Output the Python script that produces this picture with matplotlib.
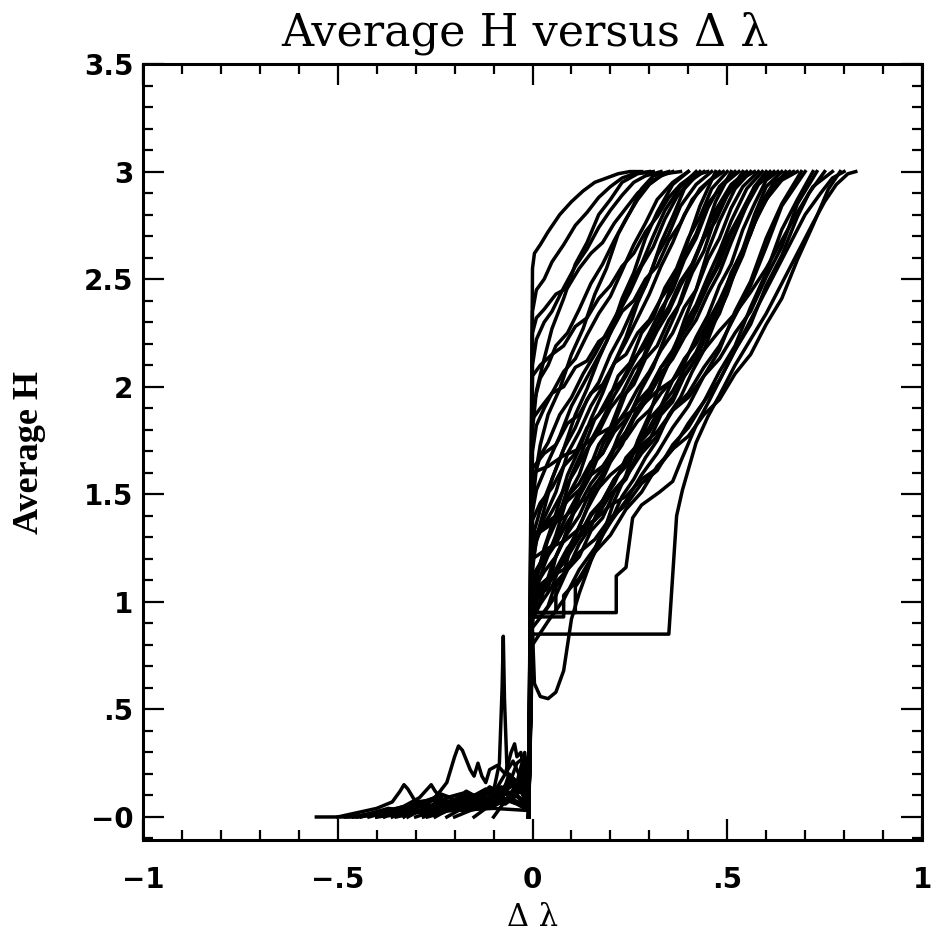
import numpy as np
import matplotlib.pyplot as plt
from matplotlib.ticker import MultipleLocator, FixedLocator, FixedFormatter

# left (negative delta lambda) pieces of the curves, hand read
neg_x = [
    [-0.555, -0.45, -0.40, -0.30, -0.20, -0.10, -0.01],
    [-0.50, -0.45, -0.40, -0.36, -0.34, -0.33, -0.32, -0.30, -0.25, -0.20, -0.15, -0.10, -0.05, -0.01],
    [-0.45, -0.40, -0.35, -0.30, -0.25, -0.22, -0.20, -0.19, -0.18, -0.16, -0.15, -0.14, -0.13, -0.12, -0.11, -0.09, -0.07, -0.05, -0.03, -0.01],
    [-0.40, -0.35, -0.30, -0.25, -0.20, -0.15, -0.10, -0.085, -0.078, -0.075, -0.072, -0.065, -0.05, -0.03, -0.01],
    [-0.42, -0.38, -0.33, -0.29, -0.27, -0.26, -0.25, -0.22, -0.18, -0.14, -0.10, -0.06, -0.03, -0.01],
    [-0.30, -0.25, -0.20, -0.15, -0.12, -0.09, -0.07, -0.055, -0.046, -0.04, -0.03, -0.02, -0.01],
    [-0.38, -0.34, -0.30, -0.26, -0.22, -0.18, -0.14, -0.10, -0.06, -0.03, -0.01],
    [-0.35, -0.30, -0.25, -0.20, -0.16, -0.12, -0.08, -0.05, -0.02, -0.01],
    [-0.48, -0.42, -0.36, -0.30, -0.24, -0.18, -0.12, -0.06, -0.01],
    [-0.25, -0.21, -0.17, -0.13, -0.09, -0.06, -0.04, -0.02, -0.01],
    [-0.32, -0.28, -0.24, -0.20, -0.16, -0.12, -0.08, -0.04, -0.01],
    [-0.20, -0.16, -0.12, -0.08, -0.05, -0.03, -0.01],
    [-0.44, -0.40, -0.36, -0.32, -0.28, -0.24, -0.20, -0.16, -0.12, -0.08, -0.04, -0.01],
    [-0.36, -0.32, -0.29, -0.26, -0.23, -0.20, -0.17, -0.14, -0.11, -0.08, -0.05, -0.02, -0.01],
    [-0.28, -0.24, -0.20, -0.17, -0.14, -0.11, -0.08, -0.06, -0.04, -0.02, -0.01],
    [-0.40, -0.35, -0.30, -0.26, -0.22, -0.18, -0.14, -0.10, -0.07, -0.04, -0.01],
    [-0.22, -0.19, -0.16, -0.13, -0.10, -0.08, -0.06, -0.04, -0.02, -0.01],
    [-0.15, -0.12, -0.09, -0.07, -0.05, -0.03, -0.01],
    [-0.46, -0.41, -0.37, -0.33, -0.29, -0.25, -0.21, -0.17, -0.13, -0.09, -0.05, -0.01],
    [-0.33, -0.30, -0.27, -0.24, -0.21, -0.18, -0.15, -0.12, -0.09, -0.06, -0.03, -0.01],
    [-0.10, -0.08, -0.06, -0.04, -0.03, -0.02, -0.01],
    [-0.27, -0.23, -0.19, -0.15, -0.11, -0.07, -0.04, -0.01],
]
neg_y = [
    [0, 0, 0.01, 0.02, 0.03, 0.04, 0.03],
    [0, 0.02, 0.04, 0.07, 0.12, 0.15, 0.13, 0.07, 0.08, 0.06, 0.09, 0.07, 0.08, 0.05],
    [0, 0.02, 0.04, 0.06, 0.09, 0.16, 0.28, 0.33, 0.31, 0.22, 0.19, 0.25, 0.19, 0.16, 0.22, 0.24, 0.20, 0.26, 0.18, 0.10],
    [0, 0.03, 0.05, 0.08, 0.07, 0.10, 0.12, 0.25, 0.60, 0.84, 0.55, 0.20, 0.15, 0.12, 0.08],
    [0, 0.02, 0.05, 0.09, 0.13, 0.15, 0.12, 0.06, 0.08, 0.06, 0.10, 0.08, 0.12, 0.06],
    [0, 0.03, 0.05, 0.09, 0.12, 0.14, 0.20, 0.30, 0.34, 0.28, 0.30, 0.20, 0.10],
    [0, 0.03, 0.06, 0.04, 0.09, 0.11, 0.07, 0.13, 0.10, 0.18, 0.08],
    [0, 0.02, 0.05, 0.07, 0.05, 0.10, 0.14, 0.09, 0.22, 0.10],
    [0, 0.01, 0.03, 0.05, 0.04, 0.07, 0.06, 0.09, 0.04],
    [0, 0.04, 0.06, 0.09, 0.08, 0.15, 0.25, 0.28, 0.15],
    [0, 0.04, 0.02, 0.07, 0.09, 0.06, 0.11, 0.16, 0.08],
    [0, 0.03, 0.05, 0.08, 0.18, 0.12, 0.05],
    [0, 0.02, 0.01, 0.04, 0.06, 0.05, 0.08, 0.10, 0.08, 0.12, 0.10, 0.06],
    [0, 0.03, 0.07, 0.05, 0.10, 0.08, 0.12, 0.09, 0.14, 0.11, 0.18, 0.13, 0.07],
    [0, 0.02, 0.06, 0.04, 0.08, 0.12, 0.09, 0.20, 0.16, 0.30, 0.12],
    [0, 0.01, 0.03, 0.02, 0.05, 0.03, 0.06, 0.05, 0.08, 0.06, 0.03],
    [0, 0.03, 0.07, 0.05, 0.11, 0.09, 0.16, 0.12, 0.24, 0.10],
    [0, 0.04, 0.06, 0.12, 0.10, 0.20, 0.08],
    [0, 0.02, 0.04, 0.03, 0.06, 0.09, 0.07, 0.11, 0.09, 0.13, 0.11, 0.05],
    [0, 0.04, 0.06, 0.11, 0.09, 0.06, 0.10, 0.13, 0.10, 0.17, 0.14, 0.06],
    [0, 0.05, 0.10, 0.14, 0.22, 0.18, 0.10],
    [0, 0.02, 0.05, 0.04, 0.07, 0.06, 0.10, 0.04],
]

# right (positive delta lambda) pieces, starting at the jump at zero
pos_x = [
    [0, .005, .02, .04, .07, .10, .13, .16, .19, .22, .25, .28],
    [0, .01, .03, .05, .08, .11, .14, .17, .20, .23, .26, .30],
    [0, .01, .03, .05, .08, .11, .14, .17, .20, .23, .26, .29, .33],
    [0, .02, .04, .06, .09, .12, .15, .18, .21, .24, .27, .30, .33, .36],
    [0, .01, .03, .06, .09, .12, .15, .18, .21, .24, .27, .30, .34, .38],
    [0, .01, .03, .05, .08, .11, .14, .17, .20, .23, .26, .29, .32, .36, .40],
    [0, .02, .04, .07, .10, .13, .16, .19, .22, .25, .28, .31, .34, .38, .42],
    [0, .01, .04, .07, .10, .13, .16, .19, .22, .25, .28, .31, .34, .37, .40, .44],
    [0, .02, .05, .08, .11, .14, .17, .20, .23, .26, .29, .32, .35, .38, .41, .45],
    [0, .02, .05, .08, .11, .14, .17, .20, .23, .26, .29, .32, .35, .38, .42, .46],
    [0, .01, .03, .06, .09, .12, .15, .18, .21, .24, .27, .30, .33, .36, .39, .43, .48],
    [0, .02, .05, .08, .11, .14, .17, .20, .23, .26, .29, .32, .35, .38, .41, .45, .49],
    [0, .02, .04, .07, .10, .13, .16, .19, .22, .25, .28, .31, .34, .37, .40, .43, .46, .50],
    [0, .01, .03, .06, .09, .12, .15, .18, .21, .24, .27, .30, .33, .36, .39, .42, .45, .48, .52],
    [0, .03, .06, .09, .12, .15, .18, .21, .24, .27, .30, .33, .36, .39, .42, .45, .49, .53],
    [0, .02, .05, .08, .11, .14, .17, .20, .23, .26, .29, .32, .35, .38, .41, .44, .47, .50, .54],
    [0, .02, .05, .08, .11, .14, .17, .20, .23, .26, .29, .32, .35, .38, .41, .44, .47, .51, .55],
    [0, .005, .02, .04, .06, .08, .09, .10, .12, .15, .18, .21, .24, .27, .30, .33, .36, .39, .42, .45, .48, .52, .56],
    [0, .02, .05, .08, .11, .14, .17, .20, .23, .26, .29, .32, .35, .38, .41, .44, .47, .50, .53, .57],
    [0, .03, .06, .09, .12, .15, .18, .21, .24, .27, .30, .33, .36, .39, .42, .45, .48, .51, .54, .58],
    [0, .03, .06, .09, .12, .15, .18, .21, .24, .27, .30, .33, .36, .39, .42, .45, .48, .51, .54, .57, .60],
    [0, .02, .05, .08, .11, .14, .17, .20, .23, .26, .29, .32, .35, .38, .41, .44, .47, .50, .53, .57, .61],
    [0, .03, .06, .09, .12, .15, .18, .21, .24, .27, .30, .33, .36, .39, .42, .45, .48, .51, .54, .58, .62],
    [0, .06, .06, .09, .12, .15, .18, .21, .24, .27, .30, .33, .36, .39, .42, .45, .48, .51, .54, .57, .60, .63],
    [0, .03, .06, .09, .12, .15, .18, .21, .24, .27, .30, .33, .36, .39, .42, .45, .48, .51, .54, .57, .60, .64],
    [0, .03, .06, .09, .12, .15, .18, .21, .24, .27, .30, .33, .36, .39, .42, .45, .48, .51, .54, .57, .61, .65],
    [0, .11, .11, .14, .17, .20, .23, .26, .29, .32, .35, .38, .41, .44, .47, .50, .53, .56, .59, .62, .66],
    [0, .03, .06, .09, .12, .15, .18, .21, .24, .27, .30, .33, .36, .39, .42, .45, .48, .51, .54, .57, .60, .64, .68],
    [0, .04, .08, .12, .16, .20, .24, .28, .32, .36, .40, .44, .48, .52, .56, .60, .64, .69],
    [0, .04, .08, .12, .16, .20, .24, .28, .32, .36, .40, .44, .48, .52, .56, .60, .64, .70],
    [0, .08, .08, .12, .16, .20, .24, .28, .32, .36, .40, .44, .48, .52, .56, .60, .64, .68, .72],
    [0, .04, .08, .12, .16, .20, .24, .28, .32, .36, .40, .44, .48, .52, .56, .60, .64, .68, .73],
    [0, .04, .08, .12, .16, .20, .24, .28, .32, .36, .40, .44, .48, .52, .56, .60, .64, .68, .71, .75],
    [0, .04, .08, .12, .16, .20, .24, .28, .32, .36, .40, .44, .48, .52, .56, .60, .64, .68, .72, .77],
    [0, .215, .215, .24, .257, .28, .326, .36, .38, .42, .455, .50, .54, .58, .62, .66, .70, .74, .77, .80],
    [0, .35, .37, .385, .42, .45, .48, .52, .56, .60, .64, .68, .72, .75, .78, .81, .83],
    [0, .04, .08, .12, .16, .20, .24, .28, .32, .36, .40, .44, .48, .52, .56, .60, .64, .68, .72, .76, .79],
    [0, .01, .03, .05, .08, .11, .14, .17, .20, .23, .27, .31],
    [0, .01, .02, .04, .07, .10, .13, .16, .19, .22, .25, .28, .31, .35],
    [0, .01, .03, .05, .08, .11, .14, .17, .20, .23, .26, .29, .32, .36, .40],
    [0, .01, .03, .06, .09, .12, .15, .18, .21, .24, .27, .30, .33, .36, .39, .43],
    [0, .02, .04, .06, .09, .12, .15, .18, .21, .24, .27, .30, .33, .36, .39, .43, .47],
    [0, .02, .04, .06, .08, .10, .13, .16, .19, .22, .25, .28, .31, .34, .37, .40, .43, .47, .51],
    [0, .03, .06, .09, .12, .15, .18, .21, .24, .27, .30, .33, .36, .39, .42, .45, .48, .51, .55, .59],
    [0, .03, .06, .09, .12, .15, .18, .21, .24, .27, .30, .33, .36, .39, .42, .45, .48, .51, .55, .59, .63, .67],
]
pos_y = [
    [2.55, 2.62, 2.66, 2.72, 2.80, 2.86, 2.91, 2.95, 2.97, 2.99, 3.00, 3.00],
    [2.35, 2.45, 2.50, 2.58, 2.66, 2.75, 2.81, 2.88, 2.93, 2.97, 2.99, 3.00],
    [2.10, 2.22, 2.30, 2.35, 2.46, 2.56, 2.64, 2.74, 2.82, 2.89, 2.95, 2.98, 3.00],
    [1.90, 2.04, 2.10, 2.19, 2.25, 2.36, 2.48, 2.57, 2.68, 2.78, 2.87, 2.94, 2.98, 3.00],
    [2.25, 2.32, 2.36, 2.43, 2.46, 2.55, 2.62, 2.67, 2.76, 2.83, 2.90, 2.95, 2.99, 3.00],
    [1.70, 1.82, 1.90, 1.97, 2.07, 2.13, 2.24, 2.34, 2.42, 2.54, 2.66, 2.76, 2.87, 2.95, 3.00],
    [1.55, 1.68, 1.74, 1.87, 1.95, 2.06, 2.15, 2.25, 2.35, 2.47, 2.57, 2.70, 2.82, 2.93, 3.00],
    [1.42, 1.52, 1.65, 1.77, 1.91, 2.01, 2.11, 2.21, 2.34, 2.44, 2.56, 2.65, 2.78, 2.88, 2.95, 3.00],
    [2.05, 2.10, 2.15, 2.19, 2.28, 2.32, 2.41, 2.47, 2.56, 2.62, 2.72, 2.79, 2.88, 2.94, 2.98, 3.00],
    [1.30, 1.43, 1.57, 1.71, 1.81, 1.94, 2.02, 2.15, 2.25, 2.37, 2.47, 2.61, 2.71, 2.84, 2.94, 3.00],
    [1.18, 1.28, 1.39, 1.51, 1.69, 1.79, 1.91, 2.00, 2.11, 2.21, 2.32, 2.43, 2.56, 2.67, 2.80, 2.92, 3.00],
    [1.85, 1.90, 1.97, 2.00, 2.09, 2.12, 2.21, 2.25, 2.35, 2.40, 2.50, 2.56, 2.68, 2.76, 2.87, 2.95, 3.00],
    [1.05, 1.18, 1.29, 1.41, 1.59, 1.71, 1.85, 1.91, 2.05, 2.11, 2.25, 2.32, 2.46, 2.55, 2.69, 2.79, 2.92, 3.00],
    [0.98, 1.06, 1.17, 1.31, 1.49, 1.59, 1.75, 1.85, 1.96, 2.05, 2.15, 2.25, 2.36, 2.45, 2.59, 2.69, 2.83, 2.93, 3.00],
    [1.62, 1.69, 1.73, 1.83, 1.87, 1.97, 2.01, 2.11, 2.15, 2.25, 2.31, 2.41, 2.49, 2.61, 2.71, 2.85, 2.94, 3.00],
    [0.93, 1.00, 1.17, 1.29, 1.45, 1.59, 1.73, 1.81, 1.95, 2.01, 2.13, 2.19, 2.31, 2.39, 2.53, 2.63, 2.79, 2.89, 3.00],
    [1.25, 1.33, 1.42, 1.52, 1.61, 1.71, 1.79, 1.90, 1.97, 2.08, 2.15, 2.26, 2.35, 2.47, 2.57, 2.70, 2.82, 2.94, 3.00],
    [0.86, 0.62, 0.56, 0.55, 0.58, 0.68, 0.80, 0.92, 1.04, 1.19, 1.31, 1.47, 1.59, 1.75, 1.87, 2.03, 2.15, 2.31, 2.45, 2.63, 2.77, 2.92, 3.00],
    [1.38, 1.46, 1.53, 1.63, 1.69, 1.81, 1.87, 1.97, 2.03, 2.13, 2.19, 2.29, 2.37, 2.49, 2.57, 2.69, 2.77, 2.89, 2.96, 3.00],
    [1.12, 1.21, 1.29, 1.41, 1.51, 1.63, 1.69, 1.81, 1.89, 1.99, 2.07, 2.17, 2.25, 2.37, 2.45, 2.59, 2.69, 2.83, 2.93, 3.00],
    [1.10, 1.19, 1.27, 1.37, 1.45, 1.55, 1.62, 1.72, 1.79, 1.89, 1.96, 2.06, 2.13, 2.23, 2.31, 2.43, 2.53, 2.67, 2.80, 2.93, 3.00],
    [0.92, 0.99, 1.07, 1.21, 1.31, 1.43, 1.53, 1.65, 1.73, 1.85, 1.93, 2.03, 2.11, 2.23, 2.31, 2.45, 2.55, 2.69, 2.79, 2.93, 3.00],
    [1.28, 1.35, 1.39, 1.49, 1.55, 1.65, 1.69, 1.79, 1.85, 1.93, 1.99, 2.09, 2.15, 2.27, 2.35, 2.47, 2.57, 2.71, 2.81, 2.94, 3.00],
    [0.95, 0.95, 1.07, 1.15, 1.27, 1.35, 1.47, 1.55, 1.67, 1.73, 1.85, 1.91, 2.03, 2.11, 2.23, 2.33, 2.47, 2.57, 2.73, 2.85, 2.96, 3.00],
    [0.98, 1.06, 1.13, 1.23, 1.30, 1.40, 1.47, 1.57, 1.64, 1.74, 1.81, 1.91, 1.98, 2.08, 2.16, 2.28, 2.38, 2.52, 2.64, 2.80, 2.93, 3.00],
    [1.02, 1.09, 1.15, 1.25, 1.31, 1.41, 1.47, 1.57, 1.63, 1.73, 1.79, 1.89, 1.95, 2.05, 2.13, 2.25, 2.34, 2.49, 2.61, 2.77, 2.90, 3.00],
    [0.95, 0.95, 1.07, 1.15, 1.29, 1.37, 1.49, 1.57, 1.67, 1.75, 1.87, 1.95, 2.07, 2.17, 2.31, 2.43, 2.59, 2.71, 2.86, 2.95, 3.00],
    [1.30, 1.36, 1.40, 1.47, 1.52, 1.59, 1.63, 1.71, 1.76, 1.84, 1.89, 1.97, 2.03, 2.13, 2.20, 2.30, 2.40, 2.52, 2.63, 2.76, 2.87, 2.96, 3.00],
    [0.80, 0.91, 1.01, 1.15, 1.25, 1.37, 1.47, 1.59, 1.69, 1.81, 1.91, 2.05, 2.17, 2.35, 2.49, 2.69, 2.85, 3.00],
    [1.00, 1.10, 1.18, 1.30, 1.38, 1.50, 1.58, 1.69, 1.77, 1.89, 1.97, 2.09, 2.19, 2.33, 2.47, 2.65, 2.84, 3.00],
    [0.93, 0.93, 1.03, 1.11, 1.23, 1.31, 1.43, 1.51, 1.63, 1.71, 1.83, 1.93, 2.07, 2.19, 2.37, 2.53, 2.73, 2.87, 3.00],
    [1.30, 1.35, 1.39, 1.46, 1.51, 1.59, 1.65, 1.73, 1.79, 1.89, 1.95, 2.05, 2.13, 2.25, 2.35, 2.51, 2.65, 2.85, 3.00],
    [1.05, 1.11, 1.15, 1.23, 1.29, 1.39, 1.45, 1.55, 1.61, 1.73, 1.81, 1.93, 2.03, 2.17, 2.29, 2.47, 2.61, 2.79, 2.90, 3.00],
    [1.60, 1.63, 1.68, 1.71, 1.77, 1.81, 1.87, 1.91, 1.98, 2.03, 2.11, 2.17, 2.26, 2.34, 2.44, 2.55, 2.68, 2.81, 2.93, 3.00],
    [0.95, 0.95, 1.12, 1.16, 1.39, 1.45, 1.51, 1.56, 1.65, 1.82, 1.94, 2.10, 2.24, 2.38, 2.52, 2.66, 2.80, 2.90, 2.97, 3.00],
    [0.85, 0.85, 1.40, 1.52, 1.74, 1.86, 1.96, 2.10, 2.22, 2.34, 2.48, 2.62, 2.76, 2.86, 2.94, 2.99, 3.00],
    [1.20, 1.25, 1.28, 1.34, 1.38, 1.45, 1.49, 1.57, 1.62, 1.71, 1.77, 1.87, 1.94, 2.06, 2.15, 2.29, 2.41, 2.59, 2.75, 2.92, 3.00],
    [1.80, 1.98, 2.13, 2.27, 2.41, 2.57, 2.67, 2.80, 2.87, 2.95, 2.99, 3.00],
    [1.45, 1.62, 1.73, 1.87, 1.99, 2.15, 2.27, 2.43, 2.55, 2.71, 2.81, 2.92, 2.98, 3.00],
    [1.15, 1.30, 1.43, 1.57, 1.71, 1.87, 1.99, 2.13, 2.25, 2.41, 2.53, 2.69, 2.81, 2.94, 3.00],
    [1.00, 1.10, 1.25, 1.41, 1.59, 1.71, 1.85, 1.97, 2.11, 2.23, 2.39, 2.51, 2.67, 2.79, 2.92, 3.00],
    [0.95, 1.04, 1.06, 1.21, 1.33, 1.49, 1.59, 1.73, 1.83, 1.97, 2.07, 2.21, 2.33, 2.49, 2.63, 2.84, 3.00],
    [0.93, 0.93, 0.98, 1.09, 1.13, 1.27, 1.39, 1.53, 1.63, 1.77, 1.87, 1.99, 2.09, 2.23, 2.35, 2.51, 2.65, 2.86, 3.00],
    [1.05, 1.14, 1.21, 1.32, 1.40, 1.52, 1.59, 1.71, 1.79, 1.90, 1.98, 2.09, 2.17, 2.29, 2.38, 2.51, 2.63, 2.77, 2.92, 3.00],
    [0.88, 0.95, 1.03, 1.15, 1.21, 1.33, 1.39, 1.51, 1.57, 1.69, 1.75, 1.87, 1.93, 2.05, 2.13, 2.27, 2.37, 2.53, 2.67, 2.85, 2.96, 3.00],
]

xtick_vals = [-1, -0.5, 0, 0.5, 1]
xtick_text = ['\u22121', '\u2212.5', '0', '.5', '1']
ytick_vals = [0, 0.5, 1, 1.5, 2, 2.5, 3, 3.5]
ytick_text = ['\u22120', '.5', '1', '1.5', '2', '2.5', '3', '3.5']

fig = plt.figure(figsize=(9.31, 9.42), dpi=100)
ax = fig.add_axes([143/931, 1 - 840/942, 779/931, 776/942])

for i in range(len(pos_x)):
    if i < len(neg_x):
        xs = neg_x[i] + pos_x[i]
        ys = neg_y[i] + pos_y[i]
    else:
        xs = [-0.01] + pos_x[i]
        ys = [0.0] + pos_y[i]
    ax.plot(xs, ys, color='black', lw=2.5, solid_joinstyle='round')

ax.set_xlim(-1, 1)
ax.set_ylim(-0.107, 3.5)

ax.xaxis.set_major_locator(FixedLocator(xtick_vals))
ax.xaxis.set_major_formatter(FixedFormatter(xtick_text))
ax.xaxis.set_minor_locator(MultipleLocator(0.1))
ax.yaxis.set_major_locator(FixedLocator(ytick_vals))
ax.yaxis.set_major_formatter(FixedFormatter(ytick_text))
ax.yaxis.set_minor_locator(MultipleLocator(0.1))

ax.tick_params(which='both', direction='in', top=True, right=True, width=1.6, color='black')
ax.tick_params(which='major', length=15)
ax.tick_params(which='minor', length=7.5)
ax.tick_params(axis='x', which='major', pad=19, labelsize=20)
ax.tick_params(axis='y', which='major', pad=7, labelsize=20)
for lab in ax.get_xticklabels() + ax.get_yticklabels():
    lab.set_family('DejaVu Sans')
    lab.set_fontweight('bold')
for sp in ax.spines.values():
    sp.set_linewidth(2.2)

fig.text(525/931, 1 - 33/942, 'Average H versus \u0394 \u03bb', ha='center', va='center',
         family='DejaVu Serif', fontsize=32)
fig.text(533/931, 1 - 918/942, '\u0394 \u03bb', ha='center', va='center',
         family='DejaVu Serif', fontsize=22)
fig.text(30/931, 1 - 452/942, 'Average H', ha='center', va='center', rotation=90,
         family='Liberation Serif', fontweight='bold', fontsize=26)

fig.savefig('out.png', dpi=100)
